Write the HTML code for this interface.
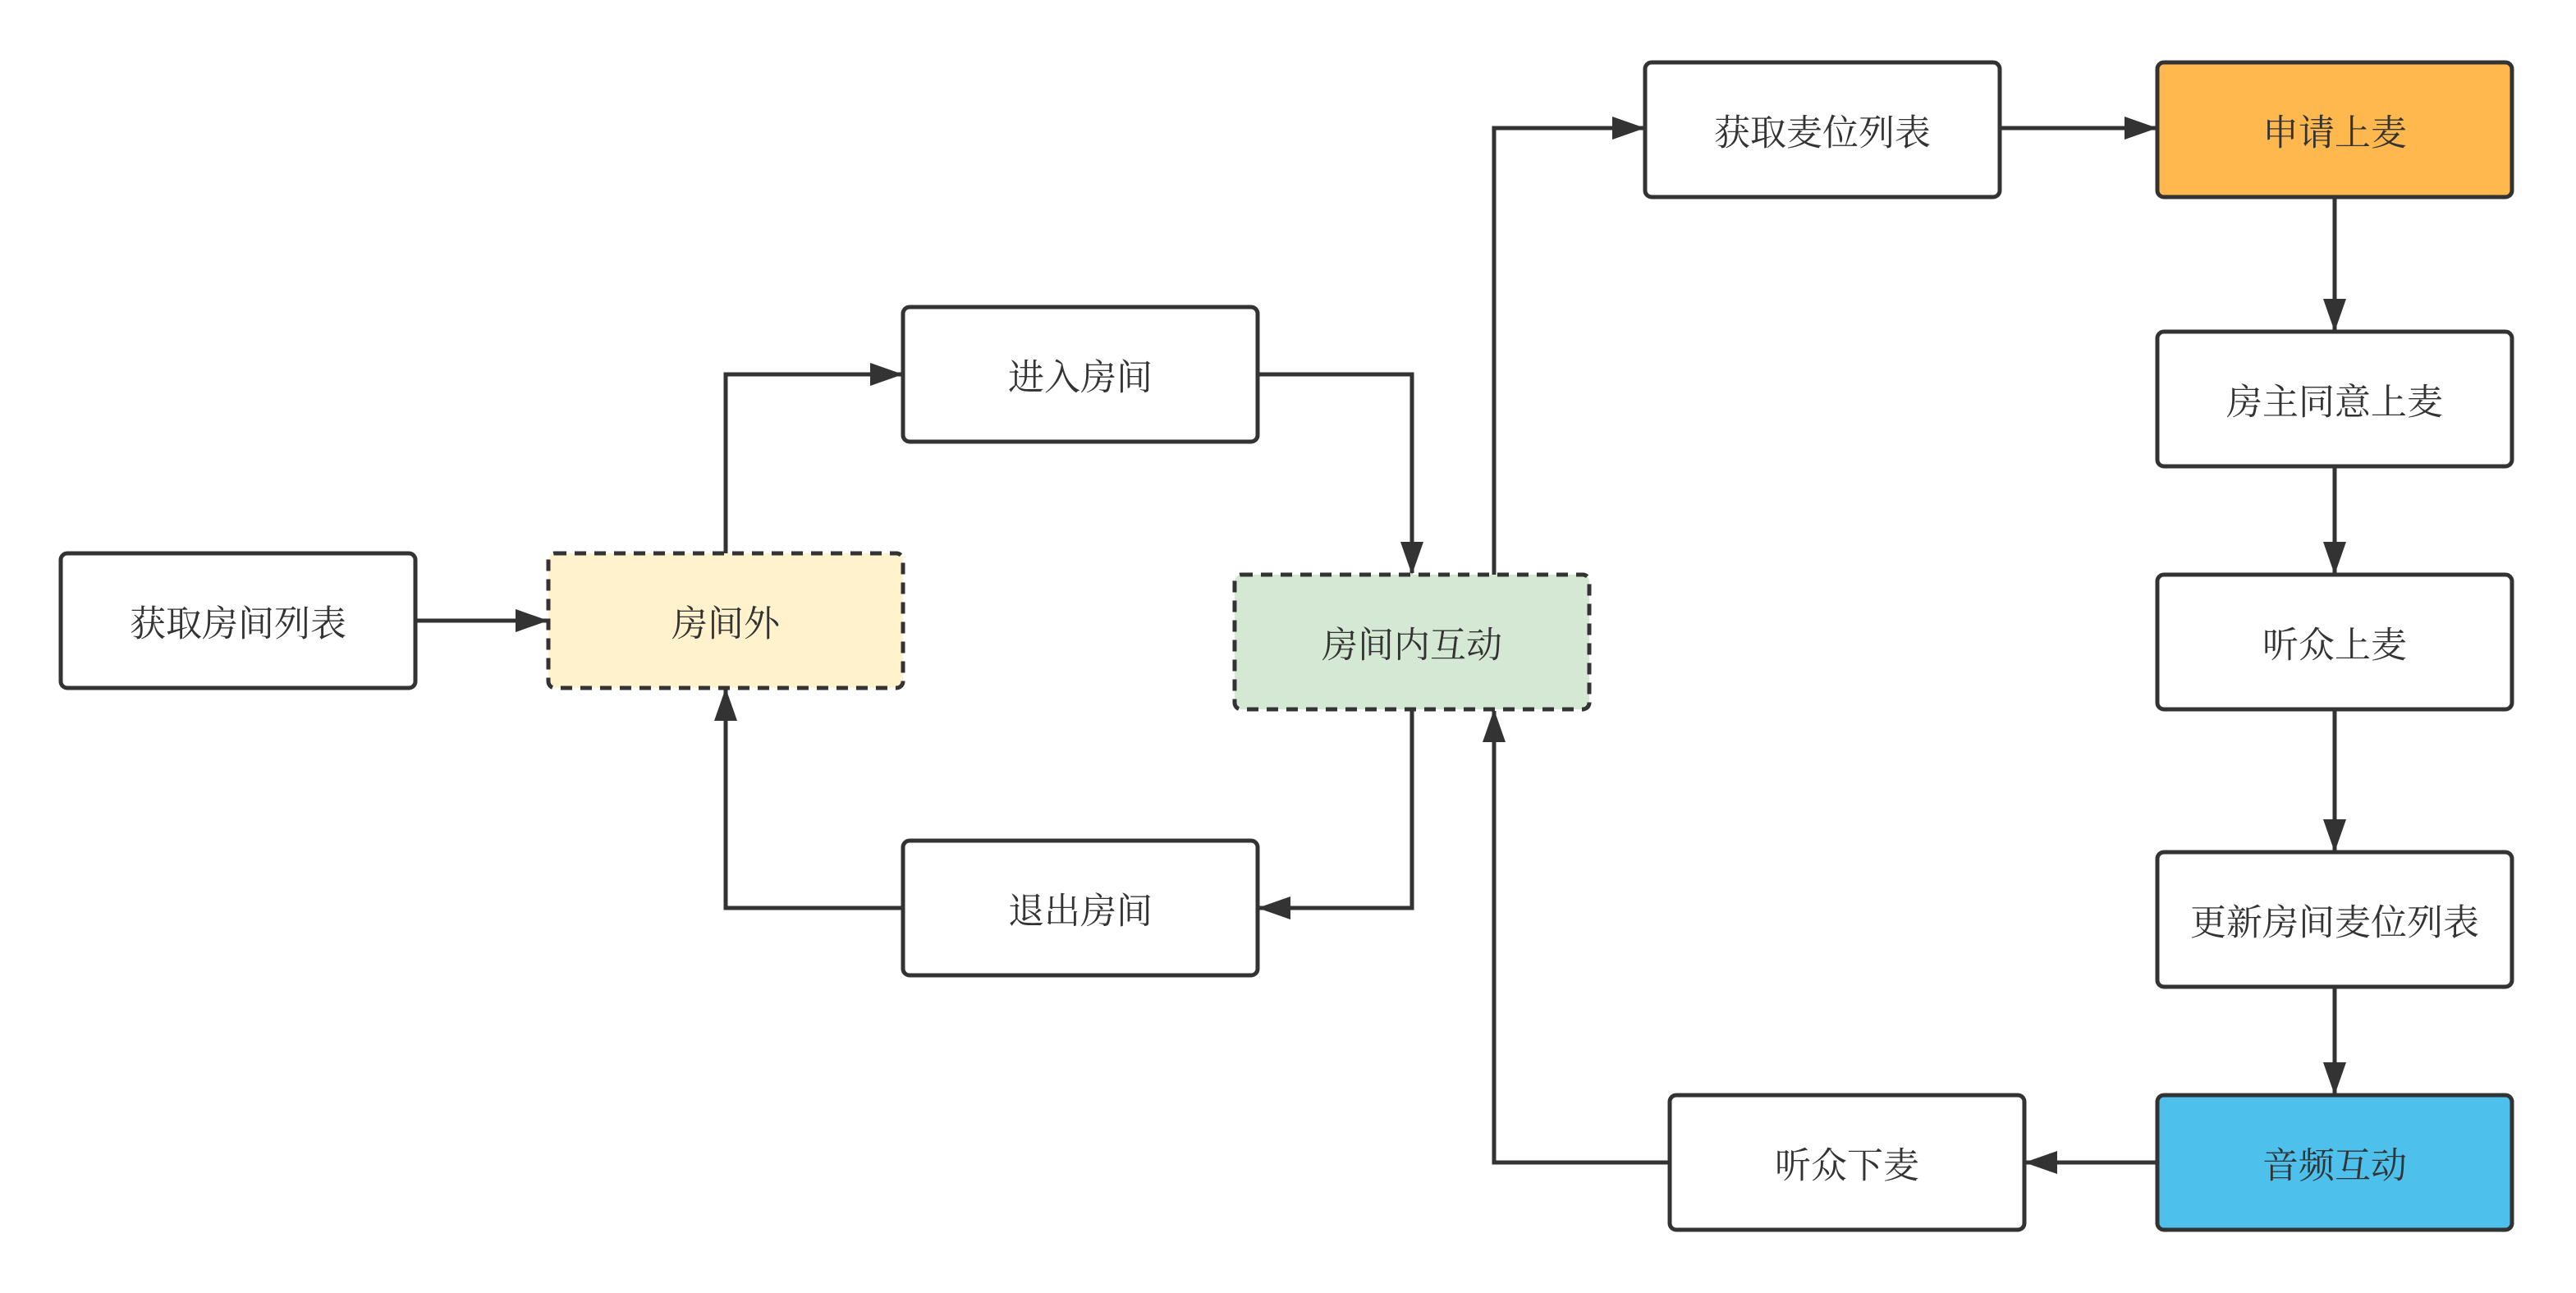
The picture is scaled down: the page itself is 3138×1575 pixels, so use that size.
<!DOCTYPE html>
<html><head><meta charset="utf-8"><style>html,body{margin:0;padding:0;background:#fff;}svg{display:block}</style></head>
<body>
<svg width="3138" height="1575" viewBox="0 0 1569 787.5" xmlns="http://www.w3.org/2000/svg">
<defs>
<marker id="ah" viewBox="0 0 20 14" refX="19" refY="7" markerWidth="20" markerHeight="14" orient="auto" markerUnits="userSpaceOnUse"><path d="M0,0 L20,7 L0,14 Z" fill="#333"/></marker>
</defs>
<g fill="none" stroke="#333" stroke-width="2.5">
<path d="M253,378 H333" marker-end="url(#ah)"/>
<path d="M442,337 V228 H549" marker-end="url(#ah)"/>
<path d="M766,228 H860 V349" marker-end="url(#ah)"/>
<path d="M860,432 V553 H767" marker-end="url(#ah)"/>
<path d="M550,553 H442 V420" marker-end="url(#ah)"/>
<path d="M910,350 V78 H1001" marker-end="url(#ah)"/>
<path d="M1218,78 H1313" marker-end="url(#ah)"/>
<path d="M1422,120 V201" marker-end="url(#ah)"/>
<path d="M1422,284 V349" marker-end="url(#ah)"/>
<path d="M1422,432 V518" marker-end="url(#ah)"/>
<path d="M1422,601 V666" marker-end="url(#ah)"/>
<path d="M1314,708 H1234" marker-end="url(#ah)"/>
<path d="M1017,708 H910 V433" marker-end="url(#ah)"/>
</g>
<g stroke="#333" stroke-width="2.5">
<rect x="37" y="337" width="216" height="82" rx="4" fill="#fff"/>
<rect x="334" y="337" width="216" height="82" rx="4" fill="#fff2cc" stroke-dasharray="7,5"/>
<rect x="550" y="187" width="216" height="82" rx="4" fill="#fff"/>
<rect x="550" y="512" width="216" height="82" rx="4" fill="#fff"/>
<rect x="752" y="350" width="216" height="82" rx="4" fill="#d5e8d4" stroke-dasharray="7,5"/>
<rect x="1002" y="38" width="216" height="82" rx="4" fill="#fff"/>
<rect x="1314" y="38" width="216" height="82" rx="4" fill="#ffb84d"/>
<rect x="1314" y="202" width="216" height="82" rx="4" fill="#fff"/>
<rect x="1314" y="350" width="216" height="82" rx="4" fill="#fff"/>
<rect x="1314" y="519" width="216" height="82" rx="4" fill="#fff"/>
<rect x="1314" y="667" width="216" height="82" rx="4" fill="#4dc0ec"/>
<rect x="1017" y="667" width="216" height="82" rx="4" fill="#fff"/>
</g>
<g font-family="'Liberation Serif','Noto Serif CJK SC',serif" font-size="22" fill="#333" text-anchor="middle" dominant-baseline="central">
<text x="145" y="380">获取房间列表</text>
<text x="442" y="380">房间外</text>
<text x="658" y="230">进入房间</text>
<text x="658" y="555">退出房间</text>
<text x="860" y="393">房间内互动</text>
<text x="1110" y="81">获取麦位列表</text>
<text x="1422" y="81">申请上麦</text>
<text x="1422" y="245">房主同意上麦</text>
<text x="1422" y="393">听众上麦</text>
<text x="1422" y="562">更新房间麦位列表</text>
<text x="1422" y="710">音频互动</text>
<text x="1125" y="710">听众下麦</text>
</g>
</svg>
</body></html>
